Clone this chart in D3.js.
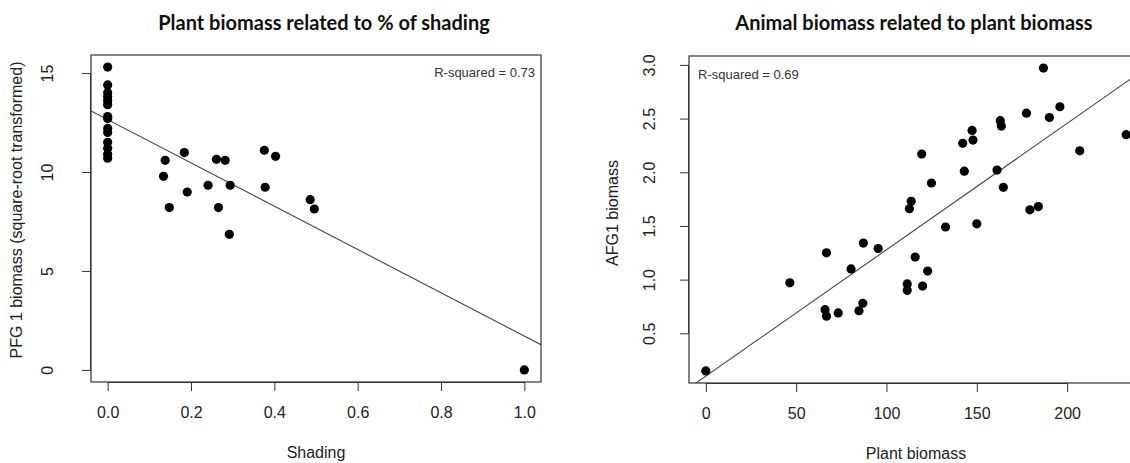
<!DOCTYPE html>
<html>
<head>
<meta charset="utf-8">
<script src="https://cdn.jsdelivr.net/npm/d3@7"></script>
<style>
  body { margin: 0; background: #fff; }
  svg { display: block; }
  .axis text { font-family: "Liberation Sans", Arial, sans-serif; font-size: 16px; fill: #222; }
  .title { font-family: Lato, "Open Sans", sans-serif; font-weight: 700; font-size: 20px; fill: #111; }
</style>
</head>
<body>
<svg id="chart" width="1130" height="463"></svg>
<script>
// left panel: PFG1 biomass vs shading
const shading = [0, 0, 0, 0, 0, 0, 0, 0, 0, 0, 0, 0, 0, 0,
  0.138, 0.184, 0.134, 0.191, 0.148, 0.241, 0.261, 0.282, 0.266, 0.294,
  0.292, 0.376, 0.403, 0.378, 0.486, 0.496, 1.0];
const pfg1 = [15.3, 14.4, 14.0, 13.8, 13.6, 13.4, 12.8, 12.7, 12.2, 12.0, 11.5, 11.2, 10.9, 10.7,
  10.59, 10.98, 9.78, 8.99, 8.20, 9.33, 10.64, 10.59, 8.20, 9.33,
  6.85, 11.1, 10.79, 9.23, 8.6, 8.13, 0];
const fitLeft = [12.65, -10.94]; // intercept, slope
const xTicksLeft = [0, 0.2, 0.4, 0.6, 0.8, 1.0];
const yTicksLeft = [0, 5, 10, 15];

// right panel: AFG1 biomass vs plant biomass
const plantBiomass = [0, 46.5, 66, 66.8, 66.8, 73.3, 80.4, 84.8, 86.9, 87.2, 95.4,
  111.5, 111.5, 112.7, 113.7, 115.9, 119.5, 120, 122.8, 124.9, 132.7,
  142.2, 143.1, 147.4, 147.9, 150, 161.2, 163, 163.6, 164.7, 177.5,
  179.4, 184.1, 186.9, 190.2, 196, 207, 232.7];
const afg1 = [0.15, 0.97, 0.72, 0.66, 1.25, 0.69, 1.10, 0.71, 0.78, 1.34, 1.29,
  0.96, 0.90, 1.66, 1.73, 1.21, 2.17, 0.94, 1.08, 1.90, 1.49,
  2.27, 2.01, 2.39, 2.30, 1.52, 2.02, 2.48, 2.43, 1.86, 2.55,
  1.65, 1.68, 2.97, 2.51, 2.61, 2.20, 2.35];
const fitRight = [0.101, 0.01177];
const xTicksRight = [0, 50, 100, 150, 200];
const yTicksRight = [0.5, 1.0, 1.5, 2.0, 2.5, 3.0];

const svg = d3.select("#chart");

// R style 4% padding of data range
function pad(ext) {
    const d = (ext[1] - ext[0]) * 0.04;
    return [ext[0] - d, ext[1] + d];
}

function drawPanel(cfg) {
    const g = svg.append("g");
    const x = d3.scaleLinear().domain(pad(d3.extent(cfg.xs))).range([cfg.left, cfg.right]);
    const y = d3.scaleLinear().domain(pad(d3.extent(cfg.ys))).range([cfg.bottom, cfg.top]);

    const clipId = "clip-" + cfg.id;
    g.append("clipPath").attr("id", clipId)
        .append("rect")
        .attr("x", cfg.left).attr("y", cfg.top)
        .attr("width", cfg.right - cfg.left).attr("height", cfg.bottom - cfg.top);

    // box
    g.append("rect")
        .attr("x", cfg.left).attr("y", cfg.top)
        .attr("width", cfg.right - cfg.left).attr("height", cfg.bottom - cfg.top)
        .attr("fill", "none").attr("stroke", "#333").attr("stroke-width", 1.2);

    // axes
    const xAxis = g.append("g").attr("class", "axis")
        .attr("transform", `translate(0,${cfg.bottom})`)
        .call(d3.axisBottom(x).tickValues(cfg.xTicks).tickFormat(cfg.xFmt).tickSize(9).tickPadding(0));
    xAxis.select(".domain").attr("d", `M${x(cfg.xTicks[0])},0.5H${x(cfg.xTicks[cfg.xTicks.length - 1])}`).attr("stroke", "#333");
    xAxis.selectAll(".tick line").attr("stroke", "#333");
    xAxis.selectAll(".tick text").attr("dy", null).attr("y", 36);

    const yAxis = g.append("g").attr("class", "axis")
        .attr("transform", `translate(${cfg.left},0)`)
        .call(d3.axisLeft(y).tickValues(cfg.yTicks).tickFormat(cfg.yFmt).tickSize(9));
    yAxis.select(".domain").attr("d", `M-0.5,${y(cfg.yTicks[0])}V${y(cfg.yTicks[cfg.yTicks.length - 1])}`).attr("stroke", "#333");
    yAxis.selectAll(".tick line").attr("stroke", "#333");
    yAxis.selectAll(".tick text")
        .attr("x", null).attr("dy", null)
        .attr("text-anchor", "middle")
        .attr("transform", `translate(${-cfg.yLabOff},0) rotate(-90)`);

    // axis titles
    g.append("text")
        .attr("x", (cfg.left + Math.min(cfg.right, 1130 + 13)) / 2).attr("y", cfg.bottom + 76)
        .attr("text-anchor", "middle")
        .style("font-family", "'Liberation Sans', Arial, sans-serif").style("font-size", "16px").style("fill", "#222")
        .text(cfg.xLabel);
    g.append("text")
        .attr("transform", `translate(${cfg.left - cfg.yTitleOff},${cfg.yTitleMid}) rotate(-90)`)
        .attr("text-anchor", "middle")
        .style("font-family", "'Liberation Sans', Arial, sans-serif").style("font-size", "16px").style("fill", "#222")
        .text(cfg.yLabel);

    // fit line
    const x0 = x.domain()[0], x1 = x.domain()[1];
    g.append("line")
        .attr("clip-path", `url(#${clipId})`)
        .attr("x1", x(x0)).attr("y1", y(cfg.fit[0] + cfg.fit[1] * x0))
        .attr("x2", x(x1)).attr("y2", y(cfg.fit[0] + cfg.fit[1] * x1))
        .attr("stroke", "#444").attr("stroke-width", 1.1);

    // points
    g.selectAll(".dot")
        .data(cfg.xs.map((d, i) => [d, cfg.ys[i]]))
        .enter().append("circle")
        .attr("class", "dot")
        .attr("cx", d => x(d[0]))
        .attr("cy", d => y(d[1]))
        .attr("r", 4.6)
        .attr("fill", "#000");

    // R-squared note
    g.append("text")
        .attr("x", cfg.rsqX).attr("y", cfg.rsqY)
        .attr("text-anchor", cfg.rsqAnchor)
        .style("font-family", "'Liberation Sans', Arial, sans-serif").style("font-size", "13px").style("fill", "#333")
        .text(cfg.rsq);

    // title
    g.append("text").attr("class", "title")
        .attr("x", cfg.titleX).attr("y", 30)
        .attr("text-anchor", "middle")
        .text(cfg.title);
}

drawPanel({
    id: "left", xs: shading, ys: pfg1, fit: fitLeft,
    left: 91, right: 541, top: 55, bottom: 382,
    xTicks: xTicksLeft, yTicks: yTicksLeft,
    xFmt: d3.format(".1f"), yFmt: d3.format("d"),
    yLabOff: 38, yTitleOff: 69, yTitleMid: 210,
    xLabel: "Shading", yLabel: "PFG 1 biomass (square-root transformed)",
    rsq: "R-squared = 0.73", rsqX: 535, rsqY: 77, rsqAnchor: "end",
    title: "Plant biomass related to % of shading", titleX: 324
});

drawPanel({
    id: "right", xs: plantBiomass, ys: afg1, fit: fitRight,
    left: 689, right: 1143, top: 56, bottom: 383,
    xTicks: xTicksRight, yTicks: yTicksRight,
    xFmt: d3.format("d"), yFmt: d3.format(".1f"),
    yLabOff: 34, yTitleOff: 71, yTitleMid: 213,
    xLabel: "Plant biomass", yLabel: "AFG1 biomass",
    rsq: "R-squared = 0.69", rsqX: 698, rsqY: 79, rsqAnchor: "start",
    title: "Animal biomass related to plant biomass", titleX: 914
});
</script>
</body>
</html>
